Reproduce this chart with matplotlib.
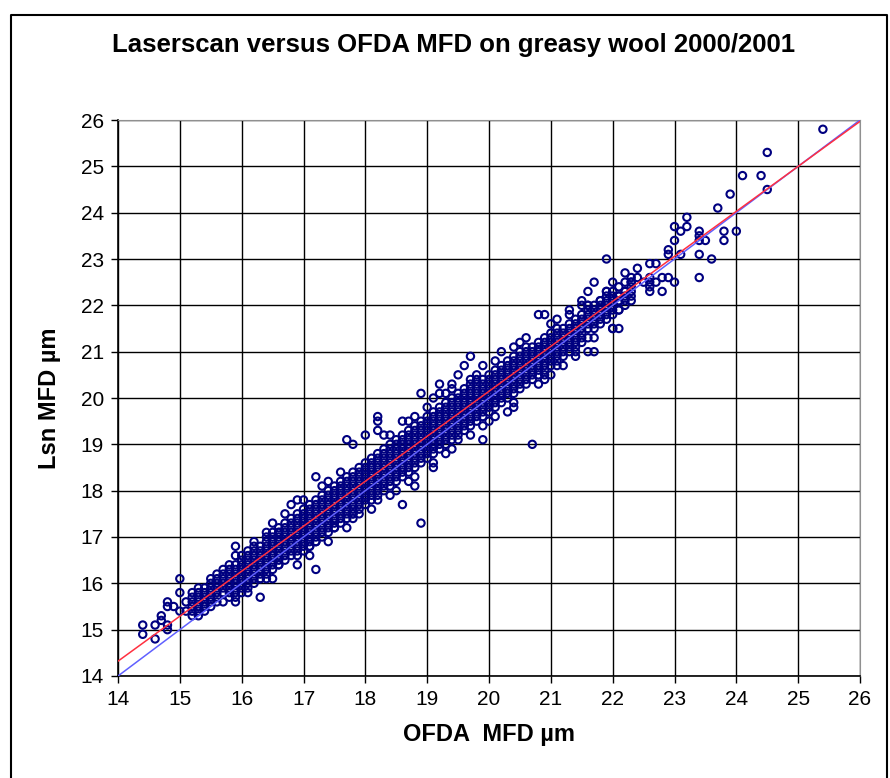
import matplotlib
matplotlib.use("Agg")
import matplotlib.pyplot as plt
from matplotlib.lines import Line2D

# Main band of samples: OFDA MFD column -> Laserscan MFD values (0.1 um resolution)
band = {
    15.2: [15.3, 15.4, 15.5, 15.6, 15.7, 15.8],
    15.3: [15.4, 15.5, 15.6, 15.7, 15.8, 15.9],
    15.4: [15.4, 15.5, 15.6, 15.7, 15.8, 15.9],
    15.5: [15.5, 15.6, 15.7, 15.8, 15.9, 16.0, 16.1],
    15.6: [15.6, 15.7, 15.8, 15.9, 16.0, 16.1, 16.2],
    15.7: [15.6, 15.8, 15.9, 16.0, 16.1, 16.2, 16.3],
    15.8: [15.7, 15.8, 15.9, 16.0, 16.1, 16.2, 16.3, 16.4],
    15.9: [15.6, 15.8, 15.9, 16.0, 16.1, 16.2, 16.3, 16.4, 16.6],
    16.0: [15.8, 15.9, 16.0, 16.1, 16.2, 16.3, 16.4, 16.5, 16.6],
    16.1: [15.9, 16.0, 16.1, 16.2, 16.3, 16.4, 16.5, 16.6, 16.7],
    16.2: [16.0, 16.1, 16.2, 16.3, 16.4, 16.5, 16.6, 16.7, 16.8],
    16.3: [16.1, 16.2, 16.3, 16.4, 16.5, 16.6, 16.7, 16.8],
    16.4: [16.2, 16.3, 16.4, 16.5, 16.6, 16.7, 16.8, 16.9, 17.0],
    16.5: [16.3, 16.4, 16.5, 16.6, 16.7, 16.8, 16.9, 17.0, 17.1],
    16.6: [16.4, 16.5, 16.6, 16.7, 16.8, 16.9, 17.0, 17.1, 17.2],
    16.7: [16.5, 16.6, 16.7, 16.8, 16.9, 17.0, 17.1, 17.2, 17.3],
    16.8: [16.6, 16.7, 16.8, 16.9, 17.0, 17.1, 17.2, 17.3, 17.4],
    16.9: [16.6, 16.7, 16.8, 16.9, 17.0, 17.1, 17.2, 17.3, 17.4, 17.5],
    17.0: [16.7, 16.8, 16.9, 17.0, 17.1, 17.2, 17.3, 17.4, 17.5, 17.6],
    17.1: [16.8, 16.9, 17.0, 17.1, 17.2, 17.3, 17.4, 17.5, 17.6, 17.7],
    17.2: [16.9, 17.0, 17.1, 17.2, 17.3, 17.4, 17.5, 17.6, 17.7, 17.8],
    17.3: [17.0, 17.1, 17.2, 17.3, 17.4, 17.5, 17.6, 17.7, 17.8, 17.9],
    17.4: [17.1, 17.2, 17.3, 17.4, 17.5, 17.6, 17.7, 17.8, 17.9, 18.0],
    17.5: [17.2, 17.3, 17.4, 17.5, 17.6, 17.7, 17.8, 17.9, 18.0, 18.1],
    17.6: [17.3, 17.4, 17.5, 17.6, 17.7, 17.8, 17.9, 18.0, 18.1, 18.2],
    17.7: [17.4, 17.5, 17.6, 17.7, 17.8, 17.9, 18.0, 18.1, 18.2, 18.3],
    17.8: [17.5, 17.6, 17.7, 17.8, 17.9, 18.0, 18.1, 18.2, 18.3, 18.4],
    17.9: [17.5, 17.6, 17.7, 17.8, 17.9, 18.0, 18.1, 18.2, 18.3, 18.4, 18.5],
    18.0: [17.7, 17.8, 17.9, 18.0, 18.1, 18.2, 18.3, 18.4, 18.5, 18.6],
    18.1: [17.8, 17.9, 18.0, 18.1, 18.2, 18.3, 18.4, 18.5, 18.6, 18.7],
    18.2: [17.9, 18.0, 18.1, 18.2, 18.3, 18.4, 18.5, 18.6, 18.7, 18.8],
    18.3: [18.0, 18.1, 18.2, 18.3, 18.4, 18.5, 18.6, 18.7, 18.8, 18.9],
    18.4: [18.1, 18.2, 18.3, 18.4, 18.5, 18.6, 18.7, 18.8, 18.9, 19.0],
    18.5: [18.2, 18.3, 18.4, 18.5, 18.6, 18.7, 18.8, 18.9, 19.0, 19.1],
    18.6: [18.3, 18.4, 18.5, 18.6, 18.7, 18.8, 18.9, 19.0, 19.1, 19.2],
    18.7: [18.4, 18.5, 18.6, 18.7, 18.8, 18.9, 19.0, 19.1, 19.2, 19.3],
    18.8: [18.5, 18.6, 18.7, 18.8, 18.9, 19.0, 19.1, 19.2, 19.3, 19.4],
    18.9: [18.6, 18.7, 18.8, 18.9, 19.0, 19.1, 19.2, 19.3, 19.4, 19.5],
    19.0: [18.7, 18.8, 18.9, 19.0, 19.1, 19.2, 19.3, 19.4, 19.5, 19.6],
    19.1: [18.8, 18.9, 19.0, 19.1, 19.2, 19.3, 19.4, 19.5, 19.6, 19.7],
    19.2: [18.9, 19.0, 19.1, 19.2, 19.3, 19.4, 19.5, 19.6, 19.7, 19.8],
    19.3: [19.0, 19.1, 19.2, 19.3, 19.4, 19.5, 19.6, 19.7, 19.8, 19.9],
    19.4: [19.1, 19.2, 19.3, 19.4, 19.5, 19.6, 19.7, 19.8, 19.9, 20.0],
    19.5: [19.2, 19.3, 19.4, 19.5, 19.6, 19.7, 19.8, 19.9, 20.0, 20.1],
    19.6: [19.3, 19.4, 19.5, 19.6, 19.7, 19.8, 19.9, 20.0, 20.1, 20.2],
    19.7: [19.4, 19.5, 19.6, 19.7, 19.8, 19.9, 20.0, 20.1, 20.2, 20.3],
    19.8: [19.5, 19.6, 19.7, 19.8, 19.9, 20.0, 20.1, 20.2, 20.3],
    19.9: [19.6, 19.7, 19.8, 19.9, 20.0, 20.1, 20.2, 20.3, 20.4],
    20.0: [19.7, 19.8, 19.9, 20.0, 20.1, 20.2, 20.3, 20.4, 20.5],
    20.1: [19.8, 19.9, 20.0, 20.1, 20.2, 20.3, 20.4, 20.5, 20.6],
    20.2: [19.9, 20.0, 20.1, 20.2, 20.3, 20.4, 20.5, 20.6, 20.7],
    20.3: [20.0, 20.1, 20.2, 20.3, 20.4, 20.5, 20.6, 20.7, 20.8],
    20.4: [20.1, 20.2, 20.3, 20.4, 20.5, 20.6, 20.7, 20.8, 20.9],
    20.5: [20.2, 20.3, 20.4, 20.5, 20.6, 20.7, 20.8, 20.9, 21.0],
    20.6: [20.3, 20.4, 20.5, 20.6, 20.7, 20.8, 20.9, 21.0],
    20.7: [20.4, 20.5, 20.6, 20.7, 20.8, 20.9, 21.0, 21.1],
    20.8: [20.5, 20.6, 20.7, 20.8, 20.9, 21.0, 21.1, 21.2],
    20.9: [20.6, 20.7, 20.8, 20.9, 21.0, 21.1, 21.2, 21.3],
    21.0: [20.7, 20.8, 20.9, 21.0, 21.1, 21.2, 21.3, 21.4],
    21.1: [20.8, 20.9, 21.0, 21.1, 21.2, 21.3, 21.4, 21.5],
    21.2: [20.9, 21.0, 21.1, 21.2, 21.3, 21.4, 21.5],
    21.3: [21.0, 21.1, 21.2, 21.3, 21.4, 21.5, 21.6],
    21.4: [21.1, 21.2, 21.3, 21.4, 21.5, 21.6, 21.7],
    21.5: [21.2, 21.3, 21.4, 21.5, 21.6, 21.7, 21.8],
    21.6: [21.3, 21.5, 21.6, 21.7, 21.8, 21.9],
    21.7: [21.5, 21.6, 21.7, 21.8, 21.9, 22.0],
    21.8: [21.6, 21.7, 21.8, 21.9, 22.0, 22.1],
    21.9: [21.7, 21.8, 21.9, 22.0, 22.1, 22.3],
    22.0: [21.8, 22.0, 22.1, 22.2, 22.3],
    22.1: [21.9, 22.1, 22.2, 22.4],
    22.2: [22.0, 22.2, 22.3, 22.5],
    22.3: [22.1, 22.3, 22.5],
}

# scattered samples away from the main band
extra_ofda = [
    14.4, 14.4, 14.6, 14.6, 14.7, 14.7, 14.8, 14.8, 14.8, 14.8, 14.9, 15.0,
    15.0, 15.0, 15.1, 15.1, 15.3, 15.9, 16.1, 16.3, 16.4, 16.3, 16.6, 15.9,
    16.5, 16.6, 16.8, 16.9, 17.0, 17.1, 17.2, 17.1, 17.2, 17.5, 17.8, 17.8,
    18.2, 18.5, 18.6, 18.7, 18.8, 18.9, 19.1, 19.1, 19.3, 19.5, 19.9, 19.9,
    20.1, 20.3, 20.4, 20.7, 20.9, 21.0, 21.4, 21.4, 21.6, 21.7, 21.1, 20.9,
    22.0, 17.2, 17.4, 17.7, 17.8, 18.0, 18.2, 18.2, 18.2, 18.3, 18.6, 18.8,
    18.9, 19.1, 19.2, 19.2, 19.4, 19.4, 19.7, 19.6, 19.5, 19.7, 19.8, 19.9,
    20.2, 20.4, 20.6, 20.6, 20.8, 20.9, 21.3, 21.3, 21.1, 21.6, 21.7, 21.9,
    22.0, 21.9, 22.0, 22.1, 22.0, 22.1, 21.9, 21.6, 21.6, 21.5, 21.8, 22.1,
    22.2, 22.3, 22.2, 22.2, 22.3, 22.3, 22.4, 22.3, 22.5, 22.6, 22.7, 22.6,
    22.6, 22.8, 22.9, 22.6, 22.8, 23.0, 22.6, 22.7, 22.4, 22.9, 22.9, 23.0,
    23.0, 23.1, 23.1, 23.2, 23.2, 23.4, 23.4, 23.4, 23.5, 23.4, 23.4, 23.6,
    23.7, 23.8, 23.8, 23.9, 24.0, 24.1, 24.4, 24.5, 24.5, 25.4,
    16.2, 16.4, 16.7, 17.3, 17.6, 18.4, 18.7, 19.0, 19.3, 19.8, 20.1, 20.5,
    21.0, 21.5, 16.5, 16.9, 17.4, 17.7, 18.1, 18.4, 18.8, 19.4, 19.7, 20.0,
    20.4, 20.8, 21.2, 21.7,
]
extra_lsn = [
    15.1, 14.9, 15.1, 14.8, 15.3, 15.2, 15.6, 15.5, 15.1, 15.0, 15.5, 15.4,
    16.1, 15.8, 15.4, 15.6, 15.3, 15.7, 15.8, 15.7, 16.1, 16.1, 16.4, 16.8,
    17.3, 17.1, 17.7, 17.8, 17.8, 16.8, 16.9, 16.6, 16.3, 17.2, 17.4, 17.5,
    17.8, 18.0, 17.7, 18.2, 18.1, 17.3, 18.6, 18.5, 18.8, 19.1, 19.1, 19.4,
    19.6, 19.7, 19.8, 19.0, 20.5, 20.5, 20.9, 21.0, 21.0, 21.0, 20.7, 20.4,
    21.5, 18.3, 18.2, 19.1, 19.0, 19.2, 19.6, 19.5, 19.3, 19.2, 19.5, 19.6,
    20.1, 20.0, 20.1, 20.3, 20.3, 20.2, 20.9, 20.7, 20.5, 20.4, 20.4, 20.7,
    21.0, 21.1, 21.1, 21.3, 21.8, 21.8, 21.8, 21.9, 21.7, 22.0, 22.5, 22.3,
    22.5, 23.0, 21.9, 21.9, 21.5, 21.5, 22.2, 22.3, 22.0, 22.1, 22.1, 22.2,
    22.7, 22.5, 22.1, 22.3, 22.4, 22.6, 22.6, 22.2, 22.5, 22.5, 22.5, 22.3,
    22.4, 22.6, 22.6, 22.6, 22.3, 22.5, 22.9, 22.9, 22.8, 23.2, 23.1, 23.4,
    23.7, 23.6, 23.1, 23.7, 23.9, 23.6, 23.5, 23.4, 23.4, 23.1, 22.6, 23.0,
    24.1, 23.6, 23.4, 24.4, 23.6, 24.8, 24.8, 24.5, 25.3, 25.8,
    16.9, 17.1, 17.5, 18.1, 18.4, 19.2, 19.5, 19.8, 20.1, 20.5, 20.8, 21.2,
    21.6, 22.0, 16.1, 16.4, 16.9, 17.2, 17.6, 17.9, 18.3, 18.9, 19.2, 19.5,
    19.9, 20.3, 20.7, 21.3,
]

# reference line (y = x) and fitted regression line end points
line_x = [14, 26]
ideal_y = [14, 26]
fit_y = [14.32, 25.97]

ofda = [x for x, ys in band.items() for _ in ys] + extra_ofda
lsn = [y for ys in band.values() for y in ys] + extra_lsn

plt.rcParams['font.family'] = ['Liberation Sans', 'DejaVu Sans']

fig = plt.figure(figsize=(8.9, 7.78), dpi=100)
ax = fig.add_axes([118 / 890, 1 - 676 / 778, 742 / 890, 556 / 778])

ax.scatter(ofda, lsn, s=28, facecolors='none', edgecolors='#000080',
           linewidths=1.5, zorder=3)
ax.plot(line_x, ideal_y, color='#6060ff', lw=1.1, zorder=4)
ax.plot(line_x, fit_y, color='#ff3040', lw=1.1, zorder=5)

ax.set_xlim(14, 26)
ax.set_ylim(14, 26)
ax.set_xticks(range(14, 27))
ax.set_yticks(range(14, 27))
ax.grid(True, color='black', lw=1.0)
ax.set_axisbelow(True)
ax.tick_params(direction='out', length=5, width=1, labelsize=15, pad=5,
               color='black')
for side in ['top', 'right']:
    ax.spines[side].set_color('#909090')
for side in ['left', 'bottom']:
    ax.spines[side].set_color('black')
    ax.spines[side].set_linewidth(1.2)

fig.text(0.51, 1 - 45 / 778, 'Laserscan versus OFDA MFD on greasy wool 2000/2001',
         ha='center', va='center', fontsize=18.5, fontweight='bold')
ax.set_xlabel('OFDA  MFD \u00b5m', fontsize=17, fontweight='bold', labelpad=10)
ax.set_ylabel('Lsn MFD \u00b5m', fontsize=17, fontweight='bold', labelpad=14)

# outer frame around the chart
fx = [11 / 890, 11 / 890, 887 / 890, 887 / 890]
fy = [0, 1 - 15 / 778, 1 - 15 / 778, 0]
fig.add_artist(Line2D(fx, fy, color='black', lw=1.5, transform=fig.transFigure))

fig.savefig('out.png', dpi=100)
